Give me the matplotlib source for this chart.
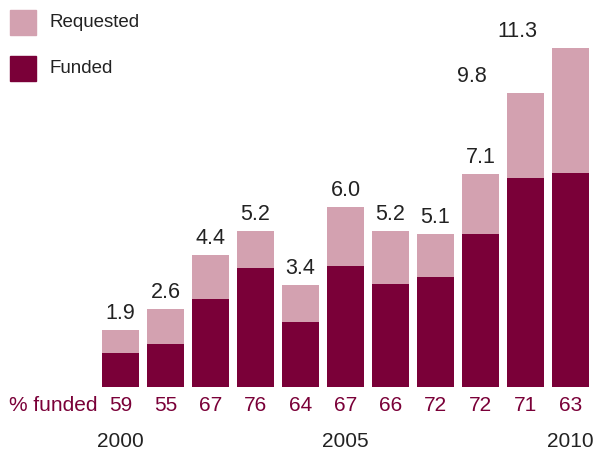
import numpy as np
import matplotlib.pyplot as plt
from matplotlib.patches import Rectangle

plt.rcParams['font.family'] = ['Liberation Sans', 'DejaVu Sans']

# data
years = [2000, 2001, 2002, 2003, 2004, 2005, 2006, 2007, 2008, 2009, 2010]
requested = [1.9, 2.6, 4.4, 5.2, 3.4, 6.0, 5.2, 5.1, 7.1, 9.8, 11.3]
pct_funded = [59, 55, 67, 76, 64, 67, 66, 72, 72, 71, 63]
year_ticks = [2000, 2005, 2010]

light = '#d3a1b0'
dark = '#7a0038'
txt = '#222222'

req = np.array(requested)
funded = req * np.array(pct_funded) / 100
x = np.arange(len(years))

W, H = 596, 450
fig = plt.figure(figsize=(W / 100, H / 100), dpi=100)
ax = fig.add_axes([0, 0, 1, 1])
ax.set_xlim(-120.5 / 45, (W - 120.5) / 45)
ax.set_ylim(-63 / 30, (H - 63) / 30)
ax.axis('off')

ax.bar(x, req, width=37 / 45, color=light)
ax.bar(x, funded, width=37 / 45, color=dark)

# value labels (last two shifted left as in the original)
for i, v in enumerate(requested):
    dx = -1.19 if i >= len(years) - 2 else 0
    ax.text(x[i] + dx, v + 11 / 30, f'{v:.1f}', ha='center', va='baseline',
            fontsize=15.5, color=txt)

# % funded row
ax.text(-0.52, -24 / 30, '% funded', ha='right', va='baseline', fontsize=15, color=dark)
for i, p in enumerate(pct_funded):
    ax.text(x[i], -24 / 30, str(p), ha='center', va='baseline', fontsize=15, color=dark)

# year labels
for yr in year_ticks:
    ax.text(years.index(yr), -60 / 30, str(yr), ha='center', va='baseline',
            fontsize=15, color=txt)

# legend
for row, (lab, col) in enumerate([('Requested', light), ('Funded', dark)]):
    top = 10 + row * 46
    fig.patches.append(Rectangle((10 / W, 1 - (top + 25) / H), 26 / W, 25 / H,
                                 transform=fig.transFigure, color=col))
    fig.text(49 / W, 1 - (top + 12.5) / H, lab, ha='left', va='center',
             fontsize=13.5, color=txt)

fig.savefig('out.png', dpi=100)
